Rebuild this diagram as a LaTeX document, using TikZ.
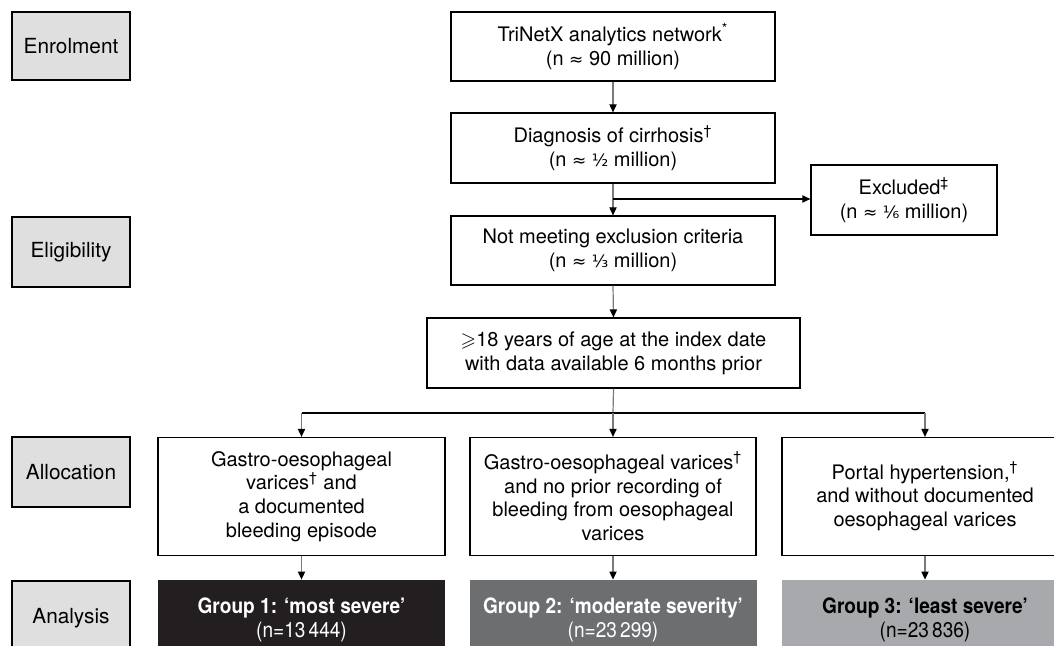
\documentclass[tikz,border=0pt]{standalone}
\usepackage{fontspec}
\usepackage{amssymb}
\setmainfont{TeX Gyre Heros}
\newfontfamily\dv{DejaVu Sans}
\usetikzlibrary{arrows.meta}
\definecolor{stagefill}{HTML}{E0DFDF}
\definecolor{gone}{HTML}{231F20}
\definecolor{gtwo}{HTML}{6D6E70}
\definecolor{gthree}{HTML}{A7A9AC}
\definecolor{conn}{HTML}{7A7A7A}
\newcommand{\fr}[1]{{\dv\fontsize{8.5}{10}\selectfont #1}}
\newcommand{\apx}{{\dv\fontsize{8.5}{10}\selectfont ≈}}
\newcommand{\grp}[2]{\scalebox{0.9}[1]{\fontsize{10.6}{12.4}\selectfont\bfseries #1}\\\scalebox{0.9}[1]{\fontsize{10.6}{12.4}\selectfont #2}}
\begin{document}
\begin{tikzpicture}[x=0.5pt,y=-0.5pt,
  every node/.style={font=\fontsize{10}{11.9}\selectfont, align=center, inner sep=0pt},
  stage/.style={draw=black, line width=0.6pt, fill=stagefill, minimum width=59pt, minimum height=35pt, font=\fontsize{10.4}{12}\selectfont},
  box/.style={draw=black, line width=0.6pt, fill=white},
  grpbox/.style={minimum width=143.5pt, minimum height=40pt},
  vline/.style={draw=conn, line width=0.6pt},
  hline/.style={draw=black, line width=0.6pt},
  tip/.style={-{Triangle[length=4pt,width=3.6pt,fill=black,color=black]}}
]
\useasboundingbox (0,0) rectangle (1054,646);
\clip (0,0) rectangle (1054,646);
% stage boxes
\node[stage, minimum height=34pt] (enr) at (71,46) {Enrolment};
\node[stage] (eli) at (71,252) {Eligibility};
\node[stage] (alo) at (71,472) {Allocation};
\node[stage, minimum height=37pt] (ana) at (71,618) {Analysis};
% main flow
\node[box, minimum width=162pt, minimum height=34.5pt] (tri) at (613,46.5)
  {TriNetX analytics network\textsuperscript{*}\\(n \apx{} 90 million)};
\node[box, minimum width=162pt, minimum height=35pt] (dia) at (613,148)
  {Diagnosis of cirrhosis\textsuperscript{†}\\(n \apx{} \fr{½} million)};
\node[box, minimum width=162pt, minimum height=34.5pt] (nme) at (613,250.5)
  {Not meeting exclusion criteria\\(n \apx{} \fr{⅓} million)};
\node[box, minimum width=93pt, minimum height=35pt] (exc) at (904,200)
  {Excluded\textsuperscript{‡}\\(n \apx{} \fr{⅙} million)};
\node[box, minimum width=186.5pt, minimum height=35pt] (age) at (613.5,353)
  {$\geqslant$18 years of age at the index date\\with data available 6 months prior};
% allocation
\node[box, minimum width=143.5pt, minimum height=59pt] (g1a) at (301.5,496.5)
  {Gastro-oesophageal\\varices\textsuperscript{†} and\\a documented\\bleeding episode};
\node[box, minimum width=143pt, minimum height=59pt] (g2a) at (613,496.5)
  {Gastro-oesophageal varices\textsuperscript{†}\\and no prior recording of\\bleeding from oesophageal\\varices};
\node[box, minimum width=143pt, minimum height=59pt] (g3a) at (925,496.5)
  {Portal hypertension,\textsuperscript{†}\\and without documented\\oesophageal varices};
% groups
\node[grpbox, fill=gone, text=white] (g1b) at (301.5,620) {\grp{Group 1: ‘most severe’}{(n=13\,444)}};
\node[grpbox, fill=gtwo, text=white] (g2b) at (613,620) {\grp{Group 2: ‘moderate severity’}{(n=23\,299)}};
\node[grpbox, fill=gthree, text=black] (g3b) at (925,620) {\grp{Group 3: ‘least severe’}{(n=23\,836)}};
% connectors
\coordinate (exj) at (613,199);
\coordinate (br) at (613,413);
\draw[vline, tip] (tri.south) -- (dia.north);
\draw[vline, tip] (dia.south) -- (nme.north);
\draw[hline, tip] (exj) -- (exc.west |- exj);
\draw[vline, tip] (nme.south) -- (age.north);
\draw[vline] (age.south) -- (br);
\draw[hline] (g1a.north |- br) -- (g3a.north |- br);
\draw[vline, tip] (g1a.north |- br) -- (g1a.north);
\draw[vline, tip] (br) -- (g2a.north);
\draw[vline, tip] (g3a.north |- br) -- (g3a.north);
\draw[vline, tip] (g1a.south) -- (g1b.north);
\draw[vline, tip] (g2a.south) -- (g2b.north);
\draw[vline, tip] (g3a.south) -- (g3b.north);
\end{tikzpicture}
\end{document}
